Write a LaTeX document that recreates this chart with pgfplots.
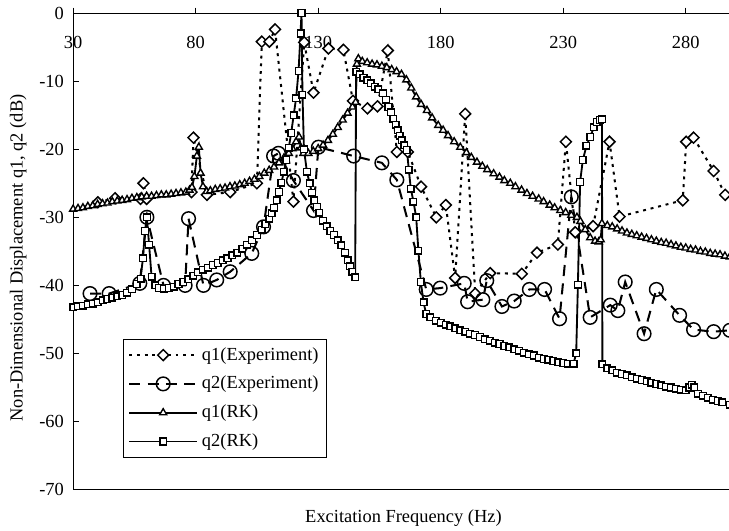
\documentclass[border=0pt]{standalone}
\usepackage{fontspec}
\setmainfont{Liberation Serif}
\usepackage{pgfplots}
\pgfplotsset{compat=1.18}

\pgfplotstableread{
x y
40.1 -27.8
47.1 -27.2
57.5 -27.3
58.7 -25.0
60.0 -27.3
78.3 -26.3
79.1 -18.3
84.6 -26.7
94.1 -26.3
105.0 -25.0
107.0 -4.2
110.1 -4.2
112.4 -2.4
119.9 -27.7
124.3 -4.3
128.1 -11.7
134.2 -5.2
140.3 -5.4
144.2 -12.9
150.1 -14.0
154.2 -13.7
158.4 -5.5
162.1 -20.4
166.6 -20.4
172.0 -25.5
178.2 -30.0
182.1 -28.2
185.9 -38.9
190.0 -14.8
194.1 -41.2
200.2 -38.2
213.1 -38.3
219.3 -35.2
227.8 -34.0
231.1 -18.9
234.9 -32.2
242.2 -31.3
248.9 -18.9
253.0 -29.9
278.8 -27.5
280.2 -18.9
283.2 -18.3
291.4 -23.2
296.1 -26.7
}\qoneexp

\pgfplotstableread{
x y
36.9 -41.2
44.7 -41.2
57.2 -39.7
60.1 -30.0
66.9 -40.0
75.7 -40.0
77.1 -30.2
83.2 -40.0
88.6 -39.2
94.1 -38.0
102.9 -35.3
107.7 -31.4
111.8 -21.0
113.8 -20.6
119.9 -24.6
128.1 -29.0
130.1 -19.7
144.5 -21.0
156.0 -22.0
162.1 -24.5
174.1 -40.6
179.8 -40.4
189.6 -39.7
191.0 -42.4
197.2 -42.1
198.8 -39.3
205.0 -43.1
210.0 -42.3
216.2 -40.6
222.4 -40.6
228.5 -44.9
233.3 -27.0
241.0 -44.7
249.2 -42.9
252.3 -43.7
255.3 -39.5
263.0 -47.1
268.0 -40.6
277.5 -44.4
283.2 -46.5
291.4 -46.8
298.0 -46.6
}\qtwoexp

\pgfplotstableread{
x y
30 -28.8
32 -28.7
34 -28.6
36 -28.4
38 -28.3
40 -28.1
42 -28.0
44 -27.9
46 -27.7
48 -27.6
50 -27.5
52 -27.4
54 -27.2
56 -27.1
58 -27.0
60 -26.9
62 -26.9
64 -26.8
66 -26.7
68 -26.7
70 -26.6
72 -26.5
74 -26.4
76 -26.3
77.5 -26.0
78.5 -25.6
79.5 -24.0
80.5 -21.0
81.3 -19.7
82.0 -23.5
83.0 -25.5
84.5 -26.2
86 -26.1
88 -25.9
90 -25.8
92 -25.7
94 -25.5
96 -25.4
98 -25.2
100 -25.0
102 -24.7
104 -24.4
106 -24.0
108 -23.5
110 -23.1
112 -22.6
114 -22.0
116 -21.3
118 -20.6
119.5 -19.9
121 -18.9
122.2 -18.2
123.0 -19.8
124 -20.6
126 -20.6
128 -20.3
130 -19.9
132 -19.4
134 -18.7
136 -17.8
138 -16.8
140 -15.7
142 -14.7
144 -13.8
145.3 -13.1
145.8 -7.5
146.4 -6.7
148 -7.1
150 -7.3
152 -7.5
154 -7.6
156 -7.8
158 -8.0
160 -8.3
162 -8.6
164 -9.0
166 -9.8
168 -11.0
170 -12.3
172 -13.4
174.4 -14.3
176.5 -15.4
179 -16.5
181 -17.2
183 -18.0
185.5 -18.9
188 -19.7
190.5 -20.5
192.5 -21.2
194.8 -21.9
197 -22.5
199 -23.0
201.6 -23.6
204 -24.1
206 -24.6
208.4 -25.0
210.5 -25.5
213 -26.0
215.2 -26.5
217.5 -26.9
220 -27.3
222 -27.7
224.5 -28.2
226.5 -28.6
228.8 -29.0
231 -29.3
233.3 -29.7
235.6 -30.0
237 -30.6
239 -31.8
241 -33.0
243 -33.5
244.5 -33.6
245.3 -33.3
245.8 -30.9
248 -31.2
250 -31.4
252 -31.7
254 -32.0
256 -32.3
258 -32.5
260 -32.7
262 -32.9
264 -33.1
266 -33.3
268 -33.5
270 -33.7
272 -33.8
274 -34.0
276 -34.2
278 -34.4
280 -34.5
282 -34.7
284 -34.8
286 -35.0
288 -35.1
290 -35.3
292 -35.4
294 -35.5
296 -35.7
298 -35.8
}\qonerk

\pgfplotstableread{
x y
30 -43.2
32 -43.1
34 -43.0
36 -42.8
38 -42.7
40 -42.5
42 -42.2
44 -42.0
46 -41.8
48 -41.6
50 -41.4
52 -41.1
54 -40.6
56 -39.8
57.5 -39.0
58.5 -36.0
59.3 -32.0
60.1 -30.0
61.0 -34.0
62.0 -38.7
63.5 -40.0
65 -40.4
67 -40.5
69 -40.4
71 -40.2
73 -39.8
75 -39.5
77 -39.1
79 -38.6
81 -38.1
83 -37.7
85 -37.4
87 -37.0
89 -36.7
91 -36.3
93 -36.0
95 -35.6
97 -35.2
99 -34.6
101 -34.0
103 -33.4
105 -32.6
107 -31.8
108.5 -31.0
110 -30.2
111 -29.4
112 -28.6
113 -27.5
114 -26.3
115 -24.9
116 -23.3
117 -21.6
118 -19.8
119 -17.6
120 -15.0
121 -12.5
122 -8.5
122.8 -3.0
123.2 0.0
123.6 -12.0
124.2 -20.0
125.4 -23.3
126.5 -25.0
127.5 -26.4
128.5 -27.5
129.5 -28.5
130.5 -29.3
132 -30.5
133.5 -31.3
135 -32.0
136.5 -32.6
138 -33.4
139.5 -34.1
141 -35.2
142 -36.3
143 -37.2
144 -38.0
145.1 -38.8
145.5 -8.6
147 -9.0
148.5 -9.5
150 -9.9
151.5 -10.3
153 -10.8
154.5 -11.2
156.5 -11.8
157.7 -12.7
158.7 -13.8
159.7 -14.6
160.7 -15.5
161.6 -16.4
162.5 -17.2
163.3 -18.0
164.1 -18.7
165.1 -19.4
166.2 -20.1
167.0 -23.0
167.8 -25.8
168.9 -27.7
170.0 -30.0
170.9 -34.9
171.9 -39.5
173.0 -42.5
174.1 -44.2
175.7 -44.7
178 -45.2
180 -45.5
182 -45.8
184 -46.0
186 -46.3
188 -46.6
190 -46.8
192 -47.1
194 -47.3
196 -47.6
198 -47.9
200 -48.1
202 -48.4
204 -48.6
206 -48.9
208 -49.1
210 -49.4
212 -49.6
214 -49.9
216 -50.1
218 -50.3
220 -50.6
222 -50.8
224 -50.9
226 -51.1
228 -51.3
230 -51.4
232 -51.5
234.2 -51.5
235.3 -50.0
236.0 -39.9
236.9 -24.8
238.0 -21.6
239.5 -19.5
241.0 -18.2
242.5 -16.8
243.7 -16.0
245.0 -15.7
245.8 -15.6
246.0 -51.6
248 -52.2
250 -52.5
252 -52.8
254 -53.0
256 -53.2
258 -53.5
260 -53.7
262 -53.9
264 -54.1
266 -54.3
268 -54.5
270 -54.7
272 -54.9
274 -55.0
276 -55.2
278 -55.3
280 -55.4
281.5 -55.0
282.5 -54.6
283.5 -55.0
285 -55.9
287 -56.2
289 -56.5
291 -56.8
293 -57.0
295 -57.2
298 -57.5
}\qtwork

\begin{document}
\begin{tikzpicture}
\begin{axis}[
    scale only axis,
    width=356.5pt, height=258.7pt,
    xmin=30, xmax=298, ymin=-70, ymax=0,
    xtick={30,80,...,280},
    ytick={-70,-60,...,0},
    xticklabel pos=upper,
    xtick pos=upper,
    ytick pos=left,
    tick align=inside,
    major tick length=3pt,
    x tick style={yshift=3pt},
    tick style={black, line width=0.5pt},
    axis line style={line width=0.6pt},
    xticklabel style={anchor=center, yshift=-15.8pt},
    yticklabel style={xshift=-1.5pt},
    /pgf/number format/assume math mode=true,
    every axis x label/.style={at={(axis description cs:0.503,-0.059)}, anchor=center},
    every axis y label/.style={at={(axis description cs:-0.0838,0.486)}, anchor=center, rotate=90},
    xlabel={Excitation Frequency (Hz)},
    ylabel={Non-Dimensional Displacement q1, q2 (dB)},
    legend image code/.code={\draw[mark repeat=2,mark phase=2,#1] plot coordinates {(0cm,0cm) (0.65cm,0cm) (1.3cm,0cm)};},
    legend style={at={(0.076,0.317)}, anchor=north west, draw=black, line width=0.5pt,
        cells={anchor=west}, row sep=3.2pt, inner sep=2.5pt},
    legend cell align=left,
]
\coordinate (bl) at (rel axis cs:0,0);
\coordinate (tr) at (rel axis cs:1,1);
\addplot[black, line width=1.1pt, dash pattern=on 1.6pt off 2.6pt,
    mark=square*, mark size=2.1pt, mark options={solid, rotate=45, fill=white, line width=0.8pt}]
    table {\qoneexp};
\addlegendentry{q1(Experiment)}
\addplot[black, line width=1.1pt, dash pattern=on 6pt off 4pt,
    mark=o, mark size=3.7pt, mark options={solid, line width=0.8pt, fill=white}]
    table {\qtwoexp};
\addlegendentry{q2(Experiment)}
\addplot[black, line width=1.0pt,
    mark=triangle*, mark size=2.2pt, mark options={solid, fill=white, line width=0.75pt}]
    table {\qonerk};
\addlegendentry{q1(RK)}
\addplot[black, line width=1.0pt,
    mark=square*, mark size=1.8pt, mark options={solid, fill=white, line width=0.75pt}]
    table {\qtwork};
\addlegendentry{q2(RK)}
\end{axis}
\pgfresetboundingbox
\path[use as bounding box] ([xshift=-39.7pt, yshift=-22.3pt]bl) rectangle ([xshift=-0.45pt, yshift=7.1pt]tr);
\end{tikzpicture}
\end{document}
